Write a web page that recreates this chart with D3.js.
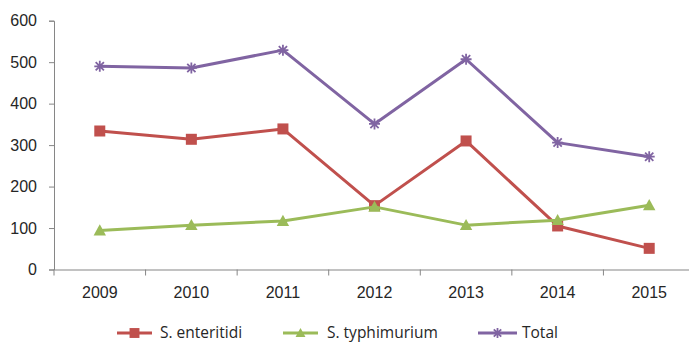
<!DOCTYPE html>
<html>
<head>
<meta charset="utf-8">
<script src="https://cdn.jsdelivr.net/npm/d3@7"></script>
<style>
  html, body { margin: 0; padding: 0; background: #fff; }
  svg { display: block; font-family: "Open Sans", "Noto Sans", sans-serif; }
</style>
</head>
<body>
<svg id="chart" width="689" height="343"></svg>
<script>
// Salmonella isolates per year
const years = ["2009", "2010", "2011", "2012", "2013", "2014", "2015"];
const enteritidi = [334, 314, 339, 154, 310, 105, 51];
const typhimurium = [94, 107, 117, 151, 107, 119, 155];
const total = [490, 486, 529, 351, 507, 306, 272];
const yTicks = [0, 100, 200, 300, 400, 500, 600];

const series = [
  { name: "S. enteritidi", values: enteritidi, color: "#C0504D", marker: "square" },
  { name: "S. typhimurium", values: typhimurium, color: "#9BBB59", marker: "triangle" },
  { name: "Total", values: total, color: "#8064A2", marker: "star" }
];

const svg = d3.select("#chart");
const plotLeft = 54, plotRight = 695, plotTop = 20.7, plotBottom = 269.5;

const x = d3.scaleBand().domain(years).range([plotLeft, plotRight]);
const y = d3.scaleLinear().domain([0, 600]).range([plotBottom, plotTop]);

const axisColor = "#868686";
const textColor = "#262626";
const fontSize = "16px";

// y axis
const yAxis = svg.append("g")
  .attr("transform", `translate(${plotLeft},0)`)
  .call(d3.axisLeft(y).tickValues(yTicks).tickSize(5).tickPadding(12));
yAxis.select(".domain").attr("stroke", axisColor).attr("stroke-width", 1);
yAxis.selectAll(".tick line").attr("stroke", axisColor);
yAxis.selectAll("text").attr("fill", textColor).style("font-size", fontSize);

// x axis with ticks on band boundaries
const xAxis = svg.append("g")
  .attr("transform", `translate(0,${plotBottom})`)
  .call(d3.axisBottom(x).tickSize(0).tickPadding(17));
xAxis.select(".domain").attr("stroke", axisColor).attr("stroke-width", 1.2);
xAxis.selectAll("text").attr("fill", textColor).style("font-size", fontSize);
xAxis.selectAll(".bound")
  .data(years.map(d => x(d)))
  .enter().append("line")
  .attr("x1", d => d).attr("x2", d => d)
  .attr("y1", 0).attr("y2", 6)
  .attr("stroke", axisColor);

function drawMarker(g, type, color, cx, cy, scale) {
  const s = scale || 1;
  if (type === "square") {
    const h = 5.5 * s;
    g.append("rect").attr("x", cx - h).attr("y", cy - h)
      .attr("width", 2 * h).attr("height", 2 * h).attr("fill", color);
  } else if (type === "triangle") {
    const h = 6.2 * s;
    g.append("path")
      .attr("d", `M${cx},${cy - h} L${cx + h},${cy + h * 0.8} L${cx - h},${cy + h * 0.8} Z`)
      .attr("fill", color);
  } else {
    const r = 5.5 * s;
    const p = [];
    p.push(`M${cx - r},${cy} L${cx + r},${cy}`);
    p.push(`M${cx},${cy - r} L${cx},${cy + r}`);
    const d = r * 0.75;
    p.push(`M${cx - d},${cy - d} L${cx + d},${cy + d}`);
    p.push(`M${cx - d},${cy + d} L${cx + d},${cy - d}`);
    g.append("path").attr("d", p.join(" "))
      .attr("stroke", color).attr("stroke-width", 1.8).attr("fill", "none");
  }
}

const line = d3.line()
  .x((d, i) => x(years[i]) + x.bandwidth() / 2)
  .y(d => y(d));

series.forEach(s => {
  const g = svg.append("g");
  g.append("path")
    .datum(s.values)
    .attr("d", line)
    .attr("fill", "none")
    .attr("stroke", s.color)
    .attr("stroke-width", 3)
    .attr("stroke-linejoin", "round");
  s.values.forEach((v, i) => {
    drawMarker(g, s.marker, s.color, x(years[i]) + x.bandwidth() / 2, y(v));
  });
});

// legend along the bottom edge
const legendY = 333;
const legendItems = [
  { x0: 117, x1: 152, tx: 160 },
  { x0: 283, x1: 318, tx: 327 },
  { x0: 478, x1: 517, tx: 522 }
];
series.forEach((s, i) => {
  const L = legendItems[i];
  const g = svg.append("g");
  g.append("line").attr("x1", L.x0).attr("x2", L.x1)
    .attr("y1", legendY).attr("y2", legendY)
    .attr("stroke", s.color).attr("stroke-width", 3);
  drawMarker(g, s.marker, s.color, (L.x0 + L.x1) / 2, legendY, s.marker === "triangle" ? 0.8 : 0.9);
  g.append("text").attr("x", L.tx).attr("y", legendY)
    .attr("dy", "0.33em")
    .attr("fill", textColor)
    .style("font-size", "15.5px")
    .text(s.name);
});
</script>
</body>
</html>
